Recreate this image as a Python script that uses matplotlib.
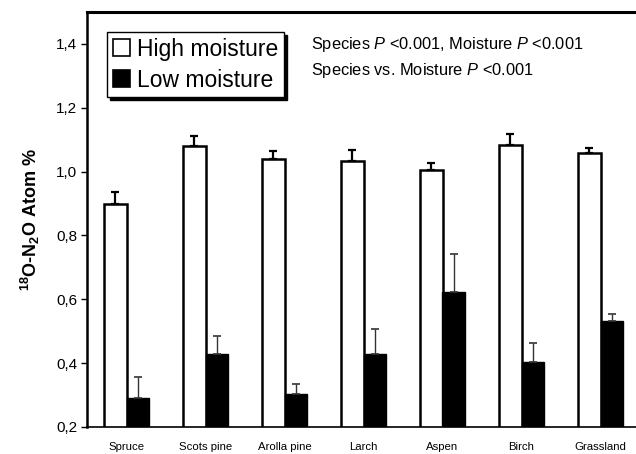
import matplotlib
matplotlib.use("Agg")
import matplotlib.pyplot as plt
from matplotlib.patches import Patch
import numpy as np

plt.rcParams['font.family'] = ['Liberation Sans', 'DejaVu Sans']
plt.rcParams['mathtext.fontset'] = 'custom'
plt.rcParams['mathtext.rm'] = 'Liberation Sans'
plt.rcParams['mathtext.it'] = 'Liberation Sans:italic'
plt.rcParams['mathtext.bf'] = 'Liberation Sans:bold'

# Data
categories = ["Spruce", "Scots pine", "Arolla pine", "Larch", "Aspen", "Birch", "Grassland"]
high_moisture = [0.90, 1.081, 1.040, 1.032, 1.004, 1.082, 1.059]
high_err = [0.035, 0.032, 0.024, 0.037, 0.022, 0.037, 0.016]
low_moisture = [0.290, 0.428, 0.303, 0.428, 0.622, 0.403, 0.531]
low_err = [0.066, 0.056, 0.031, 0.080, 0.120, 0.060, 0.022]
yticks = [0.2, 0.4, 0.6, 0.8, 1.0, 1.2, 1.4]
ytick_labels = ["0,2", "0,4", "0,6", "0,8", "1,0", "1,2", "1,4"]

W, H = 636, 454
fig = plt.figure(figsize=(W / 100, H / 100), dpi=100)
ax = fig.add_axes([87 / W, (H - 427) / H, 553 / W, 415 / H])

x = np.arange(len(categories))
bw = 0.29
ax.bar(x - bw / 2, high_moisture, width=bw, color="white", edgecolor="black",
       linewidth=1.8, zorder=2)
ax.bar(x + bw / 2, low_moisture, width=bw, color="black", edgecolor="black",
       linewidth=1.0, zorder=2)
ax.errorbar(x - bw / 2, high_moisture, yerr=[np.zeros(len(x)), high_err], fmt="none",
            ecolor="black", elinewidth=1.6, capsize=3, capthick=1.6, zorder=3)
ax.errorbar(x + bw / 2, low_moisture, yerr=[np.zeros(len(x)), low_err], fmt="none",
            ecolor="#333333", elinewidth=1.0, capsize=3, capthick=1.2, zorder=3)

ax.set_xlim(-0.5, 6.5)
ax.set_ylim(0.2, 1.5)
ax.set_xticks(x)
ax.set_xticklabels(categories, fontsize=8.2)
ax.tick_params(axis="x", length=0, pad=10.5)
ax.set_yticks(yticks)
ax.set_yticklabels(ytick_labels, fontsize=11)
ax.tick_params(axis="y", direction="out", length=4, width=1, pad=3)

ax.spines["right"].set_visible(False)
ax.spines["top"].set_linewidth(2.2)
ax.spines["left"].set_linewidth(1.8)
ax.spines["bottom"].set_linewidth(1.2)

ax.set_ylabel(r"$^{\mathbf{18}}$O-N$_{\mathbf{2}}$O Atom %", fontsize=13,
              fontweight="bold", labelpad=10)

ax.text(311 / W, 1 - 45 / H, r"Species $P$ <0.001, Moisture $P$ <0.001",
        transform=fig.transFigure, fontsize=11.8, va="center", ha="left")
ax.text(311 / W, 1 - 70 / H, r"Species vs. Moisture $P$ <0.001",
        transform=fig.transFigure, fontsize=11.8, va="center", ha="left")

handles = [Patch(facecolor="white", edgecolor="black", linewidth=1.2, label="High moisture"),
           Patch(facecolor="black", edgecolor="black", linewidth=1.2, label="Low moisture")]
leg = ax.legend(handles=handles, loc="upper left",
                bbox_to_anchor=(107 / W, 1 - 32 / H), bbox_transform=fig.transFigure,
                borderaxespad=0, fontsize=16.5, frameon=True, fancybox=False,
                shadow={"color": "black", "alpha": 1.0},
                handlelength=0.75, handleheight=0.75, handletextpad=0.3,
                labelspacing=0.35, borderpad=0.25)
leg.get_frame().set_edgecolor("black")
leg.get_frame().set_linewidth(1.0)

fig.savefig("out.png", dpi=100)
